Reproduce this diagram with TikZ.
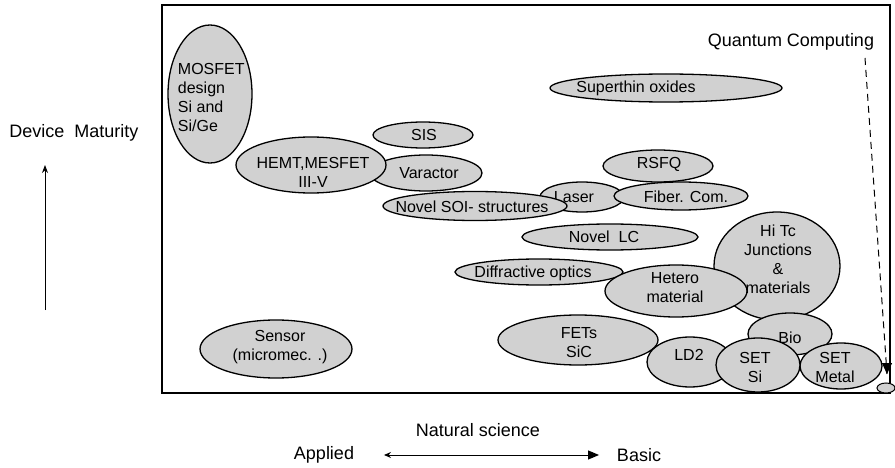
\documentclass[tikz,border=0pt]{standalone}
\usepackage{fontspec}
\setmainfont{Liberation Sans}
\usepackage{tikz}
\usetikzlibrary{arrows.meta,shapes.geometric}

\tikzset{
  blob/.style={ellipse, draw, line width=1.3pt, fill=black!18, inner sep=0pt},
  lbl/.style={inner sep=0.75pt, align=center, font=\fontsize{16}{19}\selectfont},
  axlbl/.style={inner sep=0.75pt, font=\fontsize{18}{21}\selectfont},
}

\begin{document}
\begin{tikzpicture}[x=1pt,y=1pt,yscale=-1,xscale=1]
\useasboundingbox (0,0) rectangle (895,468);
%Shape: Frame
\draw [line width=1.3pt] (162,5) rectangle (890,393);

%Shape: Ellipse MOSFET
\node [blob, minimum width=84pt, minimum height=138pt] (mosfet) at (210,94) {};
\node [lbl, align=left, anchor=west] (mosfetT) at (177,97) {MOSFET\\design\\Si and\\Si/Ge};
%Shape: Ellipse SIS
\node [blob, minimum width=100pt, minimum height=26pt] (sis) at (423,135) {};
\node [lbl] (sisT) at (424,135) {SIS};
%Shape: Ellipse Varactor
\node [blob, minimum width=112pt, minimum height=36pt] (varactor) at (426,173) {};
\node [lbl] (varactorT) at (429,173) {Varactor};
%Shape: Ellipse HEMT
\node [blob, minimum width=150pt, minimum height=56pt] (hemt) at (311,165) {};
\node [lbl] (hemtT) at (313,172) {HEMT,MESFET\\III-V};
%Shape: Ellipse Laser
\node [blob, minimum width=84pt, minimum height=30pt] (laser) at (582,197) {};
\node [lbl] (laserT) at (574,197) {Laser};
%Shape: Ellipse SOI
\node [blob, minimum width=184pt, minimum height=29pt] (soi) at (475,206) {};
\node [lbl] (soiT) at (472,207) {Novel SOI- structures};
%Shape: Ellipse Superthin
\node [blob, minimum width=232pt, minimum height=28pt] (thin) at (666,88) {};
\node [lbl] (thinT) at (636,88) {Superthin oxides};
%Shape: Ellipse RSFQ
\node [blob, minimum width=110pt, minimum height=32pt] (rsfq) at (658,166) {};
\node [lbl] (rsfqT) at (659,164) {RSFQ};
%Shape: Ellipse Fiber
\node [blob, minimum width=134pt, minimum height=28pt] (fiber) at (681,196) {};
\node [lbl] (fiberT) at (686,197) {Fiber. Com.};
%Shape: Ellipse Novel LC
\node [blob, minimum width=176pt, minimum height=26pt] (lc) at (610,237) {};
\node [lbl] (lcT) at (604,237) {Novel\ \ LC};
%Shape: Ellipse Diffractive
\node [blob, minimum width=168pt, minimum height=26pt] (diffr) at (539,272) {};
\node [lbl] (diffrT) at (533,273) {Diffractive optics};
%Shape: Ellipse HiTc
\node [blob, minimum width=126pt, minimum height=108pt] (hitc) at (777,266) {};
\node [lbl] (hitcT) at (778,259) {Hi Tc\\Junctions\\\&\\materials};
%Shape: Ellipse Hetero
\node [blob, minimum width=142pt, minimum height=52pt] (hetero) at (676,291) {};
\node [lbl] (heteroT) at (675,288) {Hetero\\material};
%Shape: Ellipse Sensor
\node [blob, minimum width=152pt, minimum height=58pt] (sensor) at (276,349) {};
\node [lbl] (sensorT) at (280,347) {Sensor\\(micromec. .)};
%Shape: Ellipse FETs
\node [blob, minimum width=160pt, minimum height=50pt] (fets) at (578,340) {};
\node [lbl] (fetsT) at (579,343) {FETs\\SiC};
%Shape: Ellipse Bio
\node [blob, minimum width=84pt, minimum height=42pt] (bio) at (790,334) {};
\node [lbl] (bioT) at (790,338) {Bio};
%Shape: Ellipse LD2
\node [blob, minimum width=86pt, minimum height=50pt] (ld2) at (690,362) {};
\node [lbl] (ld2T) at (689,355) {LD2};
%Shape: Ellipse SET Metal
\node [blob, minimum width=82pt, minimum height=46pt] (setm) at (841,366) {};
\node [lbl] (setmT) at (835,367) {SET\\Metal};
%Shape: Ellipse SET Si
\node [blob, minimum width=84pt, minimum height=54pt] (setsi) at (758,365) {};
\node [lbl] (setsiT) at (755,367) {SET\\Si};

% Text Node
\node [axlbl] (qc) at (791,42) {Quantum Computing};
\coordinate (qtop) at (865,58);
\coordinate (qend) at (887,374);
%Straight Lines
\draw [dashed, line width=1pt, dash pattern=on 7pt off 5pt] (qtop) -- (qend);
\draw [-{Triangle[length=11pt,width=10pt]}, line width=1pt] ([yshift=-2pt]qend) -- (qend);
%Shape: Ellipse small
\node [blob, minimum width=18pt, minimum height=10pt, line width=1pt] (qbit) at (886,388) {};

% Text Node
\node [axlbl] (maturity) at (74,133) {Device\ \ Maturity};
\coordinate (mlow) at (45,310);
\coordinate (mhigh) at (45,165);
%Straight Lines
\draw [-{Stealth[length=8pt,width=6pt]}, line width=1pt] (mlow) -- (mhigh);

% Text Node
\node [axlbl] (natsci) at (478,430) {Natural science};
% Text Node
\node [axlbl] (applied) at (324,455) {Applied};
% Text Node
\node [axlbl] (basic) at (639,455) {Basic};
%Straight Lines
\draw [{Stealth[open,length=7pt,width=6pt]}-{Triangle[length=11pt,width=9pt]}, line width=1pt, shorten <=29pt, shorten >=17pt] (applied) -- (basic);
\end{tikzpicture}
\end{document}
